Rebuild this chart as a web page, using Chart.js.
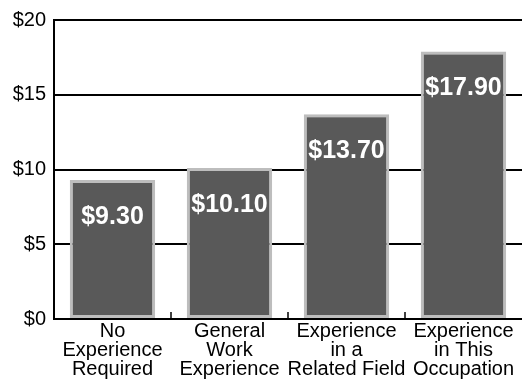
<!DOCTYPE html>
<html>
<head>
<meta charset="utf-8">
<script src="https://cdn.jsdelivr.net/npm/chart.js@4/dist/chart.umd.min.js"></script>
<style>
  html, body { margin: 0; padding: 0; background: #fff; }
  #wrap { width: 522px; height: 379px; position: relative; }
</style>
</head>
<body>
<div id="wrap"><canvas id="chart"></canvas></div>
<script>
const categories = [
  ["No", "Experience", "Required"],
  ["General", "Work", "Experience"],
  ["Experience", "in a", "Related Field"],
  ["Experience", "in This", "Occupation"],
];
const wages = [9.3, 10.1, 13.7, 17.9];
const yTicks = [0, 5, 10, 15, 20];

const FONT = "'Liberation Sans', Arial, sans-serif";

// short upward marks on the x axis between categories
const innerTicks = {
  id: "innerTicks",
  beforeDatasetsDraw(chart) {
    const x = chart.scales.x;
    const ctx = chart.ctx;
    const bottom = chart.chartArea.bottom;
    ctx.save();
    ctx.strokeStyle = "#000";
    ctx.lineWidth = 1.5;
    for (let i = 1; i < categories.length; i++) {
      const px = (x.getPixelForValue(i - 1) + x.getPixelForValue(i)) / 2;
      ctx.beginPath();
      ctx.moveTo(px, bottom);
      ctx.lineTo(px, bottom - 7);
      ctx.stroke();
    }
    ctx.restore();
  },
};

// dollar amount printed near the top of each bar
const valueLabels = {
  id: "valueLabels",
  afterDatasetsDraw(chart) {
    const ctx = chart.ctx;
    const meta = chart.getDatasetMeta(0);
    ctx.save();
    ctx.fillStyle = "#fff";
    ctx.font = "bold 25px " + FONT;
    ctx.textAlign = "center";
    ctx.textBaseline = "middle";
    meta.data.forEach((bar, i) => {
      ctx.fillText("$" + wages[i].toFixed(2), bar.x, bar.y + 37);
    });
    ctx.restore();
  },
};

new Chart(document.getElementById("chart"), {
  type: "bar",
  data: {
    labels: categories,
    datasets: [
      {
        data: wages,
        backgroundColor: "#595959",
        borderColor: "#bdbdbd",
        borderWidth: 3,
        borderSkipped: false,
        barPercentage: 0.73,
        categoryPercentage: 1,
      },
    ],
  },
  options: {
    responsive: true,
    maintainAspectRatio: false,
    animation: false,
    layout: { padding: { top: 10, right: 0, left: 0, bottom: 0 } },
    plugins: { legend: { display: false }, tooltip: { enabled: false } },
    scales: {
      x: {
        offset: true,
        grid: { display: false, drawTicks: false },
        border: { display: true, color: "#000", width: 2 },
        ticks: {
          color: "#000",
          padding: 3,
          maxRotation: 0,
          autoSkip: false,
          font: { family: FONT, size: 20, lineHeight: 0.95 },
        },
        afterFit(scale) {
          scale.height = 60;
        },
      },
      y: {
        min: 0,
        max: 20,
        afterBuildTicks(scale) {
          scale.ticks = yTicks.map((v) => ({ value: v }));
        },
        grid: { color: "#000", lineWidth: 2, drawTicks: false },
        border: { display: true, color: "#000", width: 2 },
        ticks: {
          color: "#000",
          padding: 8,
          font: { family: FONT, size: 20 },
          callback: (v) => "$" + v,
        },
        afterFit(scale) {
          scale.width = 54;
        },
      },
    },
  },
  plugins: [innerTicks, valueLabels],
});
</script>
</body>
</html>
